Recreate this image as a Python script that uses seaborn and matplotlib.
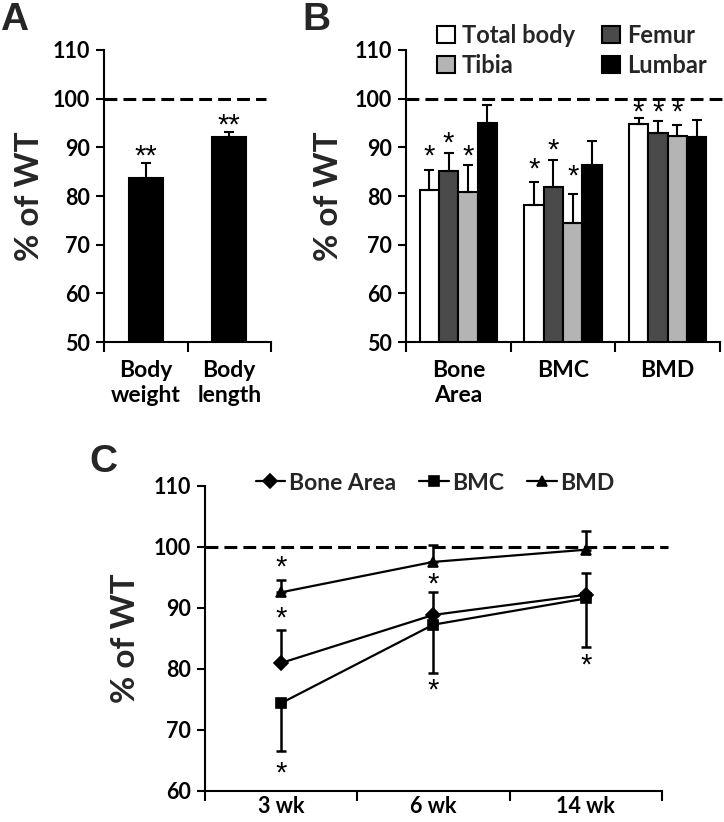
import numpy as np
import pandas as pd
import matplotlib
matplotlib.use("Agg")
import matplotlib.pyplot as plt
import seaborn as sns

# ---------------- data ----------------
# Panel A
a_categories = ["Body\nweight", "Body\nlength"]
a_values = [83.8, 92.2]
a_errors = [3.0, 1.0]
a_star_y = [88.8, 95.3]
a_stars = ["**", "**"]

# Panel B
b_groups = ["Bone\nArea", "BMC", "BMD"]
b_sites = ["Total body", "Femur", "Tibia", "Lumbar"]
b_total = [81.3, 78.2, 94.8]
b_femur = [85.2, 81.9, 92.9]
b_tibia = [80.9, 74.5, 92.3]
b_lumbar = [94.9, 86.3, 92.1]
b_total_err = [4.1, 4.6, 1.3]
b_femur_err = [3.6, 5.5, 2.5]
b_tibia_err = [5.4, 5.9, 2.2]
b_lumbar_err = [3.8, 5.1, 3.5]
b_total_star = [88.8, 86.2, 97.8]
b_femur_star = [91.5, 90.1, 97.8]
b_tibia_star = [88.8, 84.7, 97.8]
b_lumbar_star = [None, None, None]
b_colors = ["white", "#4a4a4a", "#b4b4b4", "black"]

# Panel C
c_weeks = ["3 wk", "6 wk", "14 wk"]
c_measures = ["Bone Area", "BMC", "BMD"]
c_bone_area = [80.9, 88.8, 92.1]
c_bmc = [74.3, 87.2, 91.5]
c_bmd = [92.5, 97.5, 99.5]
c_bone_area_err_up = [5.4, 3.7, 3.6]
c_bmc_err_down = [7.8, 8.0, 7.9]
c_bmd_err_up = [2.0, 2.8, 3.0]
c_star_week = ["3 wk", "3 wk", "3 wk", "6 wk", "6 wk", "14 wk"]
c_star_y = [97.2, 88.8, 63.4, 94.4, 77.0, 81.1]

# ---------------- style ----------------
sns.set_theme(style="ticks")
plt.rcParams["font.family"] = ["Lato", "DejaVu Sans"]
plt.rcParams["font.weight"] = "bold"
plt.rcParams["axes.linewidth"] = 1.5
plt.rcParams["axes.edgecolor"] = "black"
plt.rcParams["xtick.color"] = "black"
plt.rcParams["ytick.color"] = "black"

W, H = 724, 822
fig = plt.figure(figsize=(W / 100, H / 100), dpi=100)


def px_axes(x0, y0, x1, y1):
    return fig.add_axes([x0 / W, 1 - y1 / H, (x1 - x0) / W, (y1 - y0) / H])


axA = px_axes(104, 50, 271, 342)
axB = px_axes(406, 50, 720, 342)
axC = px_axes(204.5, 485.7, 662, 790.5)

STAR_FS = 21
dash_style = (0, (4.2, 2.0))


def star(ax, x, y, s="*"):
    # place the asterisk glyph centre at data value y
    ax.annotate(s, (x, y), xytext=(0, -0.40 * STAR_FS), textcoords="offset points",
                family=["Liberation Sans", "DejaVu Sans"], fontsize=STAR_FS,
                fontweight="normal", ha="center", va="baseline", color="black",
                annotation_clip=False)


def style_cat_axis(ax, n, ymin, ymax, ylabel, label_x, xpad):
    ax.set_xlim(-0.5, n - 0.5)
    ax.set_ylim(ymin, ymax)
    ax.set_yticks(np.arange(ymin, ymax + 1, 10))
    ax.set_xticks(np.arange(-0.5, n, 1.0), minor=True)
    ax.tick_params(axis="x", which="minor", length=7, width=1.5, direction="out")
    ax.tick_params(axis="x", which="major", length=0, pad=xpad)
    ax.tick_params(axis="y", which="major", length=6, width=1.5, pad=4,
                   labelsize=15.5)
    for lab in ax.get_yticklabels():
        lab.set_fontweight("bold")
    ax.set_xlabel("")
    ax.set_ylabel(ylabel, fontsize=24, fontweight="bold")
    ax.yaxis.set_label_coords(label_x, 0.5)
    sns.despine(ax=ax)


# ---------------- Panel A ----------------
dfA = pd.DataFrame({"cat": a_categories, "val": a_values})
sns.barplot(data=dfA, x="cat", y="val", color="black", width=0.41,
            errorbar=None, edgecolor="black", linewidth=1.5, ax=axA)
bars = axA.containers[0]
xs = [b.get_x() + b.get_width() / 2 for b in bars]
axA.errorbar(xs, a_values, yerr=[np.zeros(len(a_values)), a_errors],
             fmt="none", ecolor="black", elinewidth=1.5, capsize=3.5,
             capthick=1.5, zorder=1)
for x, y, s in zip(xs, a_star_y, a_stars):
    star(axA, x, y, s)
axA.axhline(100, xmin=0, xmax=0.97, color="black", lw=2.2, ls=dash_style)
style_cat_axis(axA, len(a_categories), 50, 110, "% of WT", -0.36, 13)
axA.tick_params(axis="x", labelsize=16.5)
for lab in axA.get_xticklabels():
    lab.set_fontweight("bold")
    lab.set_linespacing(1.22)

# ---------------- Panel B ----------------
rows = []
for site, vals in zip(b_sites, [b_total, b_femur, b_tibia, b_lumbar]):
    for g, v in zip(b_groups, vals):
        rows.append({"group": g, "site": site, "val": v})
dfB = pd.DataFrame(rows)
sns.barplot(data=dfB, x="group", y="val", hue="site", hue_order=b_sites,
            order=b_groups, palette=b_colors, width=0.74, errorbar=None,
            edgecolor="black", linewidth=1.5, ax=axB)
errs = [b_total_err, b_femur_err, b_tibia_err, b_lumbar_err]
stars = [b_total_star, b_femur_star, b_tibia_star, b_lumbar_star]
vals_all = [b_total, b_femur, b_tibia, b_lumbar]
for cont, err, st, vals in zip(axB.containers, errs, stars, vals_all):
    xs = [b.get_x() + b.get_width() / 2 for b in cont]
    axB.errorbar(xs, vals, yerr=[np.zeros(len(vals)), err], fmt="none",
                 ecolor="black", elinewidth=1.5, capsize=3.5, capthick=1.5,
                 zorder=1)
    for x, y in zip(xs, st):
        if y is not None:
            star(axB, x, y)
axB.axhline(100, xmin=0, xmax=1.015, color="black", lw=2.2, ls=dash_style,
            clip_on=False)
style_cat_axis(axB, len(b_groups), 50, 110, "% of WT", -0.20, 13)
axB.tick_params(axis="x", labelsize=16.5)
for lab in axB.get_xticklabels():
    lab.set_fontweight("bold")
    lab.set_linespacing(1.22)

legB = axB.get_legend()
handlesB = list(legB.legend_handles)
labelsB = [t.get_text() for t in legB.get_texts()]
legB.remove()
orderB = [0, 2, 1, 3]  # column-wise fill: Total body/Tibia, Femur/Lumbar
newB = axB.legend([handlesB[i] for i in orderB], [labelsB[i] for i in orderB],
                  loc="upper left", bbox_to_anchor=(437 / W, 1 - 24 / H),
                  bbox_transform=fig.transFigure, ncol=2, frameon=False,
                  fontsize=17, handlelength=0.75, handleheight=0.75,
                  handletextpad=0.3, columnspacing=1.15, labelspacing=0.28,
                  borderpad=0, borderaxespad=0)
for t in newB.get_texts():
    t.set_fontweight("bold")
for h in newB.legend_handles:
    h.set_edgecolor("black")
    h.set_linewidth(1.5)

# ---------------- Panel C ----------------
rowsC = []
for m, vals in zip(c_measures, [c_bone_area, c_bmc, c_bmd]):
    for wk, v in zip(c_weeks, vals):
        rowsC.append({"week": wk, "measure": m, "val": v})
dfC = pd.DataFrame(rowsC)
sns.pointplot(data=dfC, x="week", y="val", hue="measure", order=c_weeks,
              hue_order=c_measures, palette=["black"] * 3,
              markers=["D", "s", "^"], linestyles=["-"] * 3, errorbar=None,
              dodge=False, markersize=7, linewidth=1.6, ax=axC)
pos = np.arange(len(c_weeks))
zeros = np.zeros(len(c_weeks))
axC.errorbar(pos, c_bone_area, yerr=[zeros, c_bone_area_err_up], fmt="none",
             ecolor="black", elinewidth=1.8, capsize=3.5, capthick=1.8)
axC.errorbar(pos, c_bmc, yerr=[c_bmc_err_down, zeros], fmt="none",
             ecolor="black", elinewidth=1.8, capsize=3.5, capthick=1.8)
axC.errorbar(pos, c_bmd, yerr=[zeros, c_bmd_err_up], fmt="none",
             ecolor="black", elinewidth=1.8, capsize=3.5, capthick=1.8)
for wk, y in zip(c_star_week, c_star_y):
    star(axC, c_weeks.index(wk), y)
axC.axhline(100, xmin=0, xmax=1.013, color="black", lw=2.2, ls=dash_style,
            clip_on=False)
style_cat_axis(axC, len(c_weeks), 60, 110, "% of WT", -0.141, 4)
axC.tick_params(axis="x", labelsize=15.5)
for lab in axC.get_xticklabels():
    lab.set_fontweight("bold")
sns.move_legend(axC, loc="center", bbox_to_anchor=(435 / W, 1 - 483 / H),
                bbox_transform=fig.transFigure, ncol=3, frameon=False,
                title=None, fontsize=16.5, handlelength=1.3,
                handletextpad=0.15, columnspacing=1.0, borderpad=0)
for t in axC.get_legend().get_texts():
    t.set_fontweight("bold")

# ---------------- panel letters ----------------
letter_font = dict(family=["Liberation Sans", "DejaVu Sans"], fontsize=28,
                   fontweight="bold", ha="left", va="top")
fig.text(0 / W, 1 - 2 / H, "A", **letter_font)
fig.text(302 / W, 1 - 2 / H, "B", **letter_font)
fig.text(89 / W, 1 - 444 / H, "C", **letter_font)

fig.savefig("out.png", dpi=100)
